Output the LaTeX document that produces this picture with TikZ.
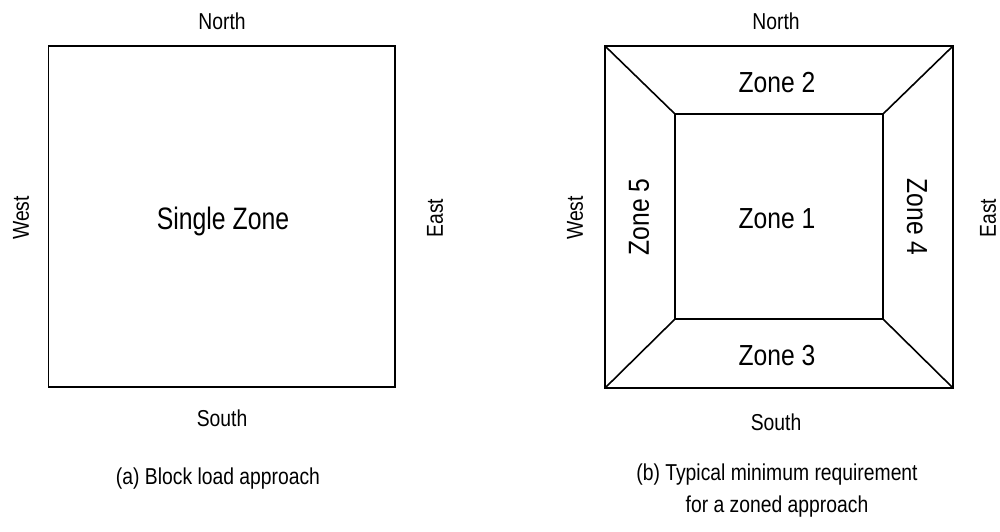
\documentclass[tikz,border=0pt]{standalone}
\usepackage{fontspec}
\setmainfont{Liberation Sans}[FakeStretch=0.84]
\newfontfamily\zonefont{Liberation Sans}[FakeStretch=0.85]
\newfontfamily\singlefont{Liberation Sans}[FakeStretch=0.8]
\begin{document}
\begin{tikzpicture}[x=1pt,y=-1pt,
  lbl/.style={inner sep=0pt,font=\fontsize{23}{32}\selectfont,align=center},
  zone/.style={inner sep=0pt,font=\zonefont\fontsize{29}{32}\selectfont},
  edge/.style={line width=1.6pt,line join=miter}]
\useasboundingbox (0,0) rectangle (1000,531);
% (a) block load
\node[draw,edge,minimum width=346.5pt,minimum height=341pt,inner sep=0pt] (blk) at (221.75,216.5) {};
\node[inner sep=0pt,font=\singlefont\fontsize{31}{32}\selectfont] (single) at (223,221) {Single Zone};
\node[lbl] (na) at (222,21) {North};
\node[lbl] (sa) at (222,418) {South};
\node[lbl,rotate=90] (wa) at (21,218) {West};
\node[lbl,rotate=90] (ea) at (435,218) {East};
\node[lbl] (ca) at (218,479) {(a) Block load approach};
% (b) zoned
\coordinate (o1) at (605,46);
\coordinate (o2) at (953,46);
\coordinate (o3) at (953,388);
\coordinate (o4) at (605,388);
\coordinate (i1) at (675,114);
\coordinate (i2) at (883,114);
\coordinate (i3) at (883,319);
\coordinate (i4) at (675,319);
\draw[edge] (o1) -- (o2) -- (o3) -- (o4) -- cycle;
\draw[edge] (i4) -- (i1) -- (i2);
\draw[line width=2.6pt] (i2) -- (i3) -- (i4);
\draw[edge] (o1) -- (i1);
\draw[edge] (o2) -- (i2);
\draw[edge] (o3) -- (i3);
\draw[edge] (o4) -- (i4);
\node[zone] (z1) at (777,219) {Zone 1};
\node[zone] (z2) at (777,83) {Zone 2};
\node[zone] (z3) at (777,356) {Zone 3};
\node[zone,rotate=-90] (z4) at (917,217) {Zone 4};
\node[zone,rotate=90] (z5) at (639,217) {Zone 5};
\node[lbl] (nb) at (776,21) {North};
\node[lbl] (sb) at (776,422) {South};
\node[lbl,rotate=90] (wb) at (575,218) {West};
\node[lbl,rotate=90] (eb) at (988,218) {East};
\node[lbl,anchor=north] (cb) at (777,464) {(b) Typical minimum requirement\\for a zoned approach};
\end{tikzpicture}
\end{document}
